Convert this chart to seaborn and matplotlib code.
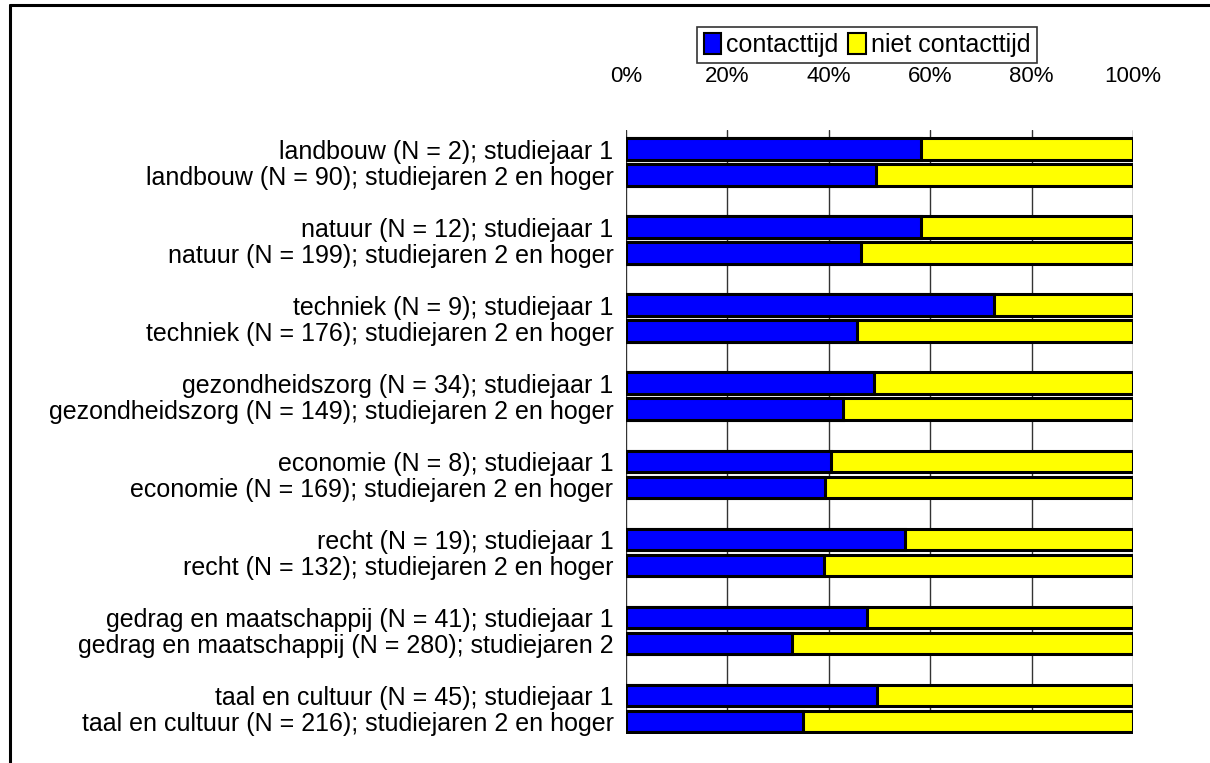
import matplotlib
matplotlib.use("Agg")
import matplotlib.pyplot as plt
from matplotlib.patches import Patch
from matplotlib.lines import Line2D
import seaborn as sns
import pandas as pd

# ---- data ----
labels = [
    "landbouw (N = 2); studiejaar 1",
    "landbouw (N = 90); studiejaren 2 en hoger",
    "natuur (N = 12); studiejaar 1",
    "natuur (N = 199); studiejaren 2 en hoger",
    "techniek (N = 9); studiejaar 1",
    "techniek (N = 176); studiejaren 2 en hoger",
    "gezondheidszorg (N = 34); studiejaar 1",
    "gezondheidszorg (N = 149); studiejaren 2 en hoger",
    "economie (N = 8); studiejaar 1",
    "economie (N = 169); studiejaren 2 en hoger",
    "recht (N = 19); studiejaar 1",
    "recht (N = 132); studiejaren 2 en hoger",
    "gedrag en maatschappij (N = 41); studiejaar 1",
    "gedrag en maatschappij (N = 280); studiejaren 2",
    "taal en cultuur (N = 45); studiejaar 1",
    "taal en cultuur (N = 216); studiejaren 2 en hoger",
]
contacttijd = [58.2, 49.4, 58.2, 46.3, 72.6, 45.5, 48.9, 42.8,
               40.4, 39.2, 55.0, 39.0, 47.5, 32.7, 49.5, 35.0]
niet_contacttijd = [100 - v for v in contacttijd]
series_names = ["contacttijd", "niet contacttijd"]
tick_values = [0, 20, 40, 60, 80, 100]
tick_labels = ["0%", "20%", "40%", "60%", "80%", "100%"]

BLUE = "#0000FF"
YELLOW = "#FFFF00"

# positions: pairs of bars with an empty slot between groups
positions = [(i // 2) * 3 + (i % 2) for i in range(len(labels))]

df = pd.DataFrame({
    "pos": positions,
    "label": labels,
    "contact": contacttijd,
    "total": [c + n for c, n in zip(contacttijd, niet_contacttijd)],
})

sns.set_style("white")
plt.rcParams["font.family"] = ["Liberation Sans", "DejaVu Sans"]
plt.rcParams["text.color"] = "black"
plt.rcParams["xtick.color"] = "black"
plt.rcParams["ytick.color"] = "black"
plt.rcParams["axes.labelcolor"] = "black"

fig = plt.figure(figsize=(12.10, 7.63), dpi=100)
ax = fig.add_axes([626 / 1210, 1 - 734 / 763, (1133 - 626) / 1210, (734 - 130) / 763])

sns.barplot(data=df, x="total", y="pos", orient="y", native_scale=True,
            color=YELLOW, saturation=1, width=0.83, edgecolor="black",
            linewidth=2.2, ax=ax, errorbar=None)
sns.barplot(data=df, x="contact", y="pos", orient="y", native_scale=True,
            color=BLUE, saturation=1, width=0.83, edgecolor="black",
            linewidth=2.2, ax=ax, errorbar=None)

ax.set_xlim(0, 100)
ax.set_ylim(22.48, -0.734)
ax.set_xticks(tick_values)
ax.set_xticklabels(tick_labels, fontsize=16, color="black")
ax.xaxis.tick_top()
ax.set_yticks(positions)
ax.set_yticklabels(labels, fontsize=18, color="black")
ax.tick_params(axis="y", length=0, pad=9)
ax.tick_params(axis="x", length=0, pad=31)
ax.set_xlabel("")
ax.set_ylabel("")
for s in ax.spines.values():
    s.set_visible(False)
ax.set_axisbelow(True)
ax.grid(axis="x", color="#333333", linewidth=1.0)
ax.grid(axis="y", visible=False)

handles = [Patch(facecolor=BLUE, edgecolor="black", linewidth=1.5),
           Patch(facecolor=YELLOW, edgecolor="black", linewidth=1.5)]
leg = fig.legend(handles, series_names, loc="center",
                 bbox_to_anchor=(867 / 1210, 1 - 45 / 763), ncol=2,
                 fontsize=18, frameon=True, fancybox=False, shadow=False,
                 handlelength=0.7, handleheight=0.9, handletextpad=0.2,
                 columnspacing=0.4, borderpad=0.25, borderaxespad=0)
leg.get_frame().set_edgecolor("black")
leg.get_frame().set_linewidth(1.2)
for t in leg.get_texts():
    t.set_color("black")

# outer frame (top and left edges visible)
fig.add_artist(Line2D([10 / 1210, 10 / 1210], [0, 1 - 5 / 763],
                      transform=fig.transFigure, color="black", linewidth=2.2))
fig.add_artist(Line2D([10 / 1210, 1], [1 - 5 / 763, 1 - 5 / 763],
                      transform=fig.transFigure, color="black", linewidth=2.2))

fig.savefig("out.png", dpi=100)
